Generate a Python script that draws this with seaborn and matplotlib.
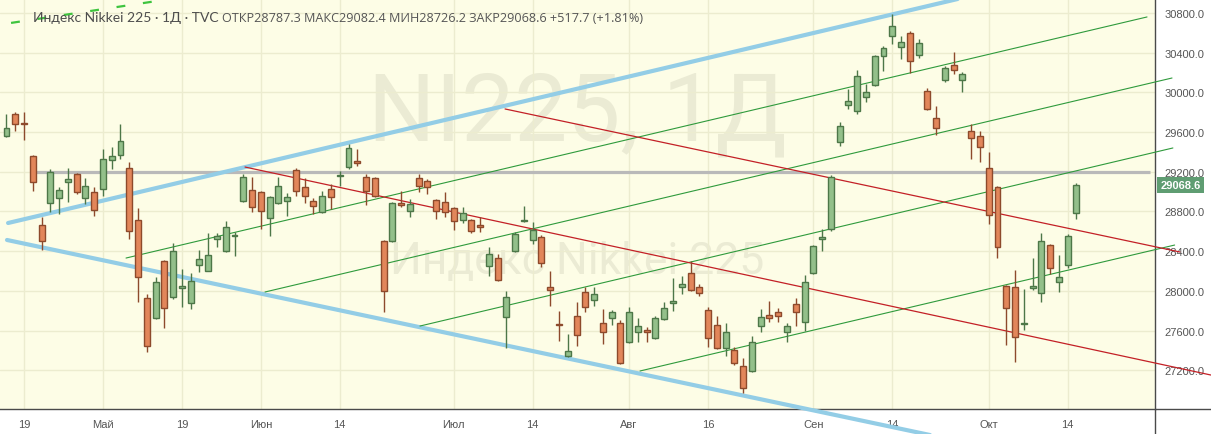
import pandas as pd
import matplotlib.pyplot as plt
import seaborn as sns
from matplotlib.lines import Line2D

# daily candles, bar index 0 = 19 Apr
bar_idx = list(range(-2, 121))
opens = [29561, 29782, 29690, 29359, 28664, 28886, 28936, 29097, 29178, 28936, 28996, 29027, 29319, 29369, 29238, 28714,
         27928, 27727, 28301, 27938, 28029, 27878, 28261, 28200, 28523, 28402, 28553, 28906, 29017, 28996, 28734, 28886,
         28906, 29218, 29047, 28906, 28795, 29027, 29158, 29248, 29309, 29148, 29137, 28503, 28503, 28886, 28805, 29137,
         29107, 28916, 28896, 28835, 28714, 28714, 28664, 28251, 28331, 27737, 28402, 28704, 28513, 28543, 28039, 27667,
         27344, 27747, 27989, 27908, 27677, 27727, 27677, 27485, 27586, 27606, 27525, 27717, 27880, 28039, 28180, 28039,
         27808, 27657, 27425, 27404, 27243, 27193, 27646, 27757, 27787, 27586, 27868, 27687, 28180, 28523, 28624, 29500,
         29873, 29813, 29954, 30075, 30367, 30568, 30457, 30598, 30377, 30014, 29742, 30125, 30276, 30125, 29611, 29561,
         29238, 29047, 28049, 28039, 27667, 28029, 27979, 28462, 28090, 28261, 28787.3]
highs = [29782, 29802, 29802, 29370, 28744, 29228, 29047, 29238, 29188, 29137, 29047, 29430, 29450, 29682, 29299, 28835,
         27969, 28140, 28311, 28482, 28220, 28180, 28412, 28583, 28583, 28704, 28593, 29178, 29148, 29006, 28956, 29148,
         28986, 29238, 29137, 28936, 29006, 29077, 29208, 29480, 29430, 29178, 29147, 28513, 28896, 29006, 28926, 29178,
         29127, 28926, 28996, 28845, 28845, 28724, 28744, 28442, 28372, 27999, 28593, 28855, 28694, 28563, 28200, 27797,
         27566, 27888, 28039, 28039, 27818, 27808, 27707, 27838, 27727, 27636, 27747, 27888, 28130, 28150, 28301, 28069,
         27838, 27747, 27677, 27435, 27324, 27546, 27818, 27898, 27828, 27677, 27928, 28160, 28462, 28624, 29168, 29702,
         30034, 30226, 30085, 30377, 30467, 30790, 30568, 30619, 30538, 30044, 29863, 30266, 30407, 30206, 29682, 29611,
         29400, 29057, 28059, 28210, 28019, 28331, 28583, 28472, 28361, 28573, 29082.4]
lows = [29551, 29611, 29520, 29006, 28412, 28795, 28775, 28896, 28976, 28876, 28755, 28956, 29228, 29329, 28523, 27888,
        27384, 27717, 27626, 27918, 27838, 27818, 28190, 28200, 28442, 28392, 28351, 28896, 28795, 28624, 28553, 28876,
        28755, 28956, 28886, 28775, 28785, 28825, 29057, 29228, 29258, 28865, 28946, 27787, 28492, 28845, 28745, 28996,
        28976, 28725, 28745, 28614, 28684, 28583, 28593, 28150, 28100, 27425, 28392, 28694, 28472, 28241, 27848, 27495,
        27334, 27445, 27787, 27848, 27465, 27657, 27263, 27475, 27485, 27485, 27515, 27707, 27797, 27969, 28000, 27948,
        27435, 27415, 27344, 27253, 26971, 27183, 27586, 27687, 27687, 27485, 27646, 27596, 28170, 28402, 28603, 29460,
        29833, 29782, 29903, 30064, 30216, 30488, 30336, 30195, 30347, 29823, 29571, 30105, 30185, 30004, 29329, 29299,
        28674, 28331, 27455, 27284, 27606, 28009, 27888, 28170, 27989, 28231, 28726.2]
closes = [29641, 29682, 29682, 29097, 28503, 29198, 29017, 29127, 28996, 29057, 28815, 29329, 29359, 29510, 28603, 28140,
          27445, 28090, 27828, 28402, 28049, 28099, 28321, 28361, 28553, 28644, 28563, 29148, 28845, 28805, 28946, 29057,
          28946, 29006, 28956, 28855, 28956, 28946, 29168, 29440, 29289, 29006, 28956, 27999, 28886, 28866, 28876, 29057,
          29047, 28805, 28795, 28704, 28785, 28603, 28644, 28372, 28110, 27938, 28573, 28714, 28613, 28281, 28009, 27657,
          27394, 27556, 27838, 27969, 27586, 27787, 27273, 27787, 27646, 27586, 27727, 27828, 27888, 28069, 28009, 27979,
          27525, 27425, 27586, 27273, 27022, 27485, 27737, 27727, 27747, 27646, 27787, 28090, 28452, 28543, 29148, 29661,
          29913, 30165, 30004, 30367, 30447, 30669, 30508, 30316, 30498, 29833, 29641, 30246, 30226, 30185, 29540, 29450,
          28765, 28442, 27828, 27535, 27677, 28049, 28503, 28231, 28140, 28553, 29068.6]

tick_pos = [0, 9, 18, 27, 36, 49, 58, 69, 78, 90, 99, 110, 119]
tick_labels = ["19", "Май", "19", "Июн", "14", "Июл", "14", "Авг", "16", "Сен", "14", "Окт", "14"]
price_ticks = [27200, 27600, 28000, 28400, 28800, 29200, 29600, 30000, 30400, 30800]

# drawings: (bar index, price) anchors
level_line = [(1.3, 29195), (128.4, 29195)]
blue_top = [(-1.82, 28684), (111.3, 31042)]
blue_bottom = [(-1.94, 28513), (103.3, 26548)]
green_lines = [[(11.63, 28331), (128.05, 30760)],
               [(27.48, 27989), (130.9, 30145)],
               [(45.15, 27646), (131.0, 29440)],
               [(70.24, 27193), (131.2, 28462)]]
red_lines = [[(54.85, 29833), (131.8, 28392)],
             [(25.2, 29248), (135.35, 27152)]]
dash_line = [(-1.48, 30700), (15.85, 30930)]

df = pd.DataFrame({"i": bar_idx, "open": opens, "high": highs, "low": lows, "close": closes})
df["up"] = df["close"] >= df["open"]

sns.set_theme(style="white")
plt.rcParams['font.family'] = ['Liberation Sans', 'DejaVu Sans']

fig = plt.figure(figsize=(12.11, 4.35), dpi=100)
ax = fig.add_axes([0, 25 / 435, 1155 / 1211, 410 / 435])
ax.set_facecolor("#fdfde6")

# watermark
ax.text(0.5, 0.72, "NI225, 1Д", transform=ax.transAxes, ha="center", va="center",
        fontsize=68, family="Roboto", color="#ebebd4", zorder=0)
ax.text(0.5, 0.36, "Индекс Nikkei 225", transform=ax.transAxes, ha="center", va="center",
        fontsize=32, family="Roboto", color="#ebebd4", zorder=0)

def seg(pts, **kw):
    xs, ys = zip(*pts)
    ax.plot(xs, ys, **kw)

seg(level_line, color="#b9b9b9", lw=2.3, zorder=3, solid_capstyle="butt")
seg(blue_top, color="#93cde6", lw=3, zorder=3)
seg(blue_bottom, color="#93cde6", lw=3, zorder=3, clip_on=False)
for g in green_lines:
    seg(g, color="#2f9a3c", lw=0.8, zorder=3, clip_on=False)
for r in red_lines:
    seg(r, color="#c32026", lw=0.9, zorder=3, clip_on=False)
seg(dash_line, color="#3ec43e", lw=1.6, ls=(0, (4, 8)), zorder=3)

# candles
for up, sub in df.groupby("up"):
    fill = "#93c08a" if up else "#e2865a"
    edge = "#4d7748" if up else "#8d4a2c"
    ax.vlines(sub["i"], sub["low"], sub["high"], color=edge, lw=1, zorder=4)
    body = (sub["close"] - sub["open"]).abs().clip(lower=14)
    ax.bar(sub["i"], body, bottom=sub[["open", "close"]].min(axis=1), width=0.68,
           color=fill, edgecolor=edge, linewidth=1, zorder=5)

ax.set_xlim(-2.74, 128.96)
ax.set_ylim(26810, 30941)
ax.set_xticks(tick_pos, tick_labels)
ax.set_yticks(price_ticks, [f"{p:.1f}" for p in price_ticks])
ax.yaxis.tick_right()
ax.grid(True, color="#ececcf", lw=1)
ax.tick_params(axis="both", length=0, colors="#555555", labelsize=8)
ax.tick_params(axis="x", pad=7)
ax.tick_params(axis="y", pad=7)
for s in ["top", "left"]:
    ax.spines[s].set_visible(False)
for s in ["right", "bottom"]:
    ax.spines[s].set_color("#4a4a4a")
    ax.spines[s].set_linewidth(1)

# axis lines running past the pane
fig.add_artist(Line2D([1155 / 1211, 1155 / 1211], [0, 25 / 435], color="#4a4a4a", lw=1))
fig.add_artist(Line2D([1155 / 1211, 1], [25 / 435, 25 / 435], color="#4a4a4a", lw=1))

# last price label
ax.annotate(f"{closes[-1]:.1f}", xy=(1.0, closes[-1]), xycoords=("axes fraction", "data"),
            xytext=(4, 0), textcoords="offset points", ha="left", va="center",
            fontsize=8, fontweight="bold", color="white",
            bbox=dict(boxstyle="square,pad=0.3", fc="#5f9d72", ec="none"), annotation_clip=False)

fig.text(33 / 1211, 1 - 18 / 435, "Индекс Nikkei 225 · 1Д · TVC", family="Lato",
         fontsize=10, color="#4d4d4d", va="center", ha="left")
fig.text(222 / 1211, 1 - 18 / 435, "ОТКР28787.3 МАКС29082.4 МИН28726.2 ЗАКР29068.6 +517.7 (+1.81%)",
         family="Open Sans", fontsize=9.1, color="#555555", va="center", ha="left")

fig.savefig("out.png", dpi=100, facecolor="white")
